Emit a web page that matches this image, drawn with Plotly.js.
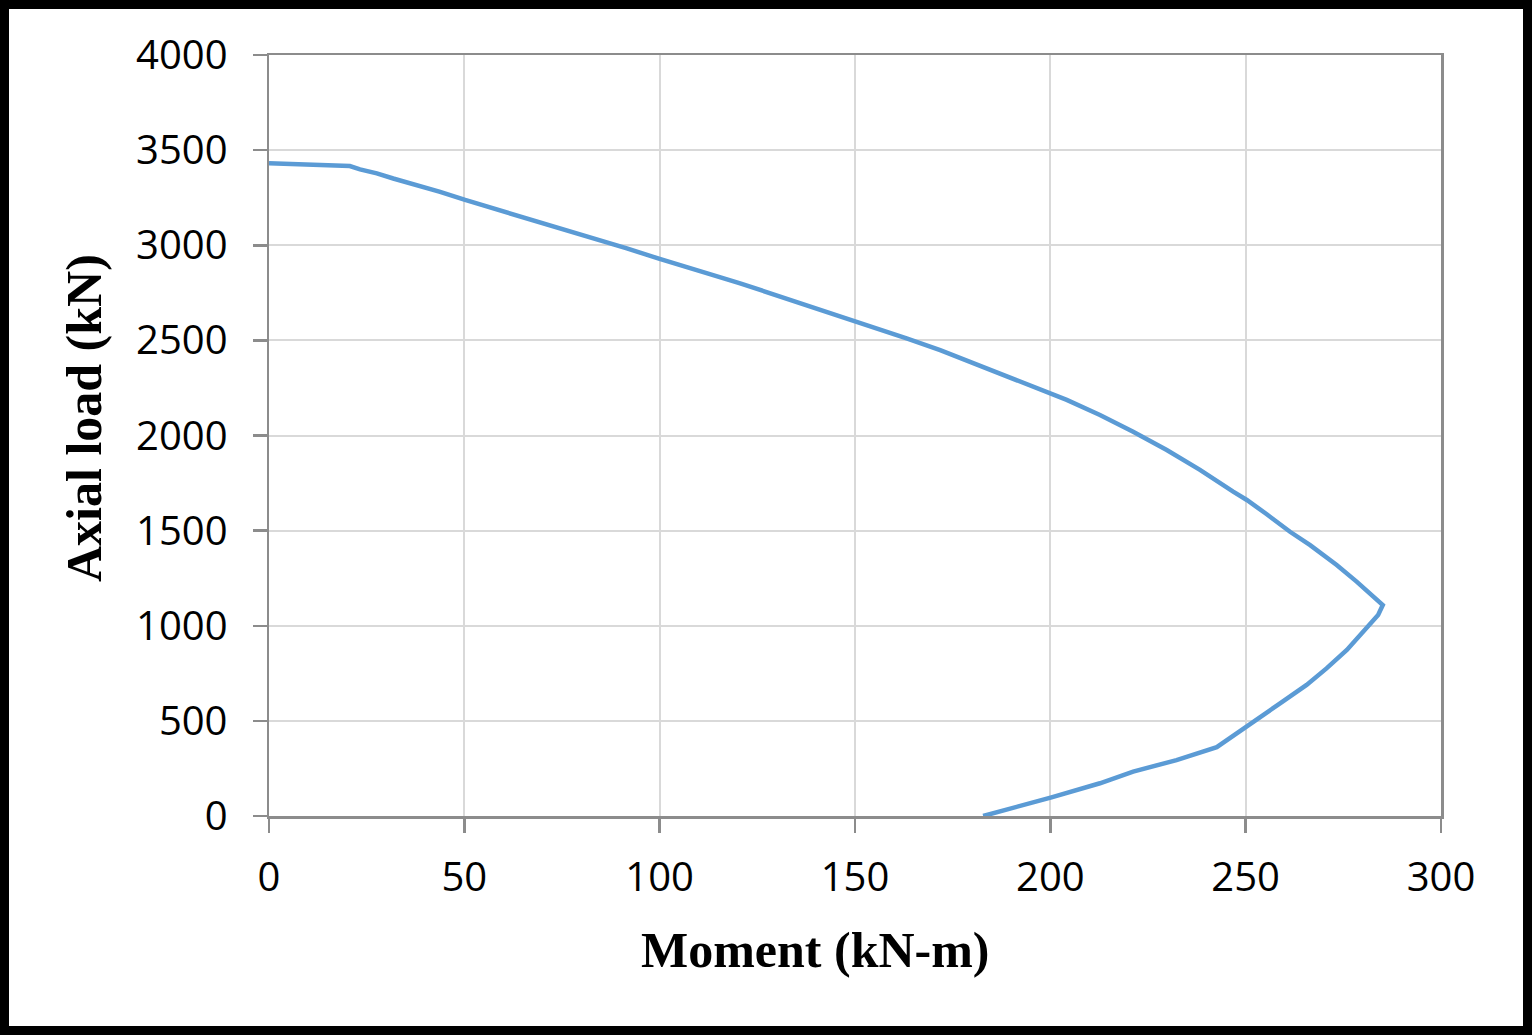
<!DOCTYPE html>
<html>
<head>
<meta charset="utf-8">
<script src="https://cdn.plot.ly/plotly-3.0.1.min.js"></script>
<style>
  html, body { margin: 0; padding: 0; background: #fff; }
  #wrap { position: relative; width: 1532px; height: 1035px; }
  #chart { width: 1532px; height: 1035px; }
  #frame { position: absolute; left: 0; top: 0; width: 1532px; height: 1035px;
           box-sizing: border-box; border: 9px solid #000; pointer-events: none; }
</style>
</head>
<body>
<div id="wrap">
  <div id="chart"></div>
  <div id="frame"></div>
</div>
<script>
// Interaction diagram: moment (kN-m) vs axial load (kN)
const moment = [0, 10, 20.7, 23.3, 27.6, 31.8, 36, 40.4, 43.8, 50.2, 57.4, 64, 70.2, 78.8, 83, 91.6, 100, 103.5, 108.6, 112, 120.6, 129.1, 135.1, 146.2, 154.7, 163.2, 171.8, 180.3, 188, 195.6, 204.2, 212.7, 221.2, 229.8, 238.3, 246.8, 250.3, 255.4, 261.35, 266.5, 273.3, 278.4, 285.1, 283.9, 281, 275.9, 270.7, 265.6, 258.8, 250.3, 242.6, 232.3, 221.2, 212.7, 200.3, 182.8];
const axialLoad = [3431, 3424, 3416, 3399, 3378, 3351, 3328, 3304, 3281, 3238, 3194, 3155, 3115, 3068, 3041, 2984, 2928, 2905, 2876, 2853, 2800, 2742, 2703, 2628, 2572, 2511, 2449, 2381, 2322, 2258, 2187, 2108, 2020, 1924, 1819, 1705, 1661, 1586, 1494, 1424, 1319, 1232, 1109, 1057, 987, 873, 776, 689, 592, 473, 362, 294, 233, 172, 98, 0];

const xTicks = [0, 50, 100, 150, 200, 250, 300];
const yTicks = [0, 500, 1000, 1500, 2000, 2500, 3000, 3500, 4000];
const xTitle = 'Moment (kN-m)';
const yTitle = 'Axial load (kN)';

const tickFont = { family: 'Open Sans, Liberation Sans, sans-serif', size: 40, color: '#000' };
const titleFont = { family: 'Liberation Serif, Times New Roman, serif', size: 50, color: '#000' };

const trace = {
  x: moment, y: axialLoad, type: 'scatter', mode: 'lines',
  line: { color: '#5b9bd5', width: 4.5 }, hoverinfo: 'x+y', showlegend: false
};

const axisCommon = {
  showline: true, linecolor: '#8c8c8c', linewidth: 2.5, mirror: true,
  showgrid: true, gridcolor: '#d9d9d9', gridwidth: 2,
  zeroline: false, ticks: 'outside', ticklen: 14, tickwidth: 2.5, tickcolor: '#8c8c8c',
  tickfont: tickFont, tickmode: 'array'
};

const layout = {
  width: 1532, height: 1035,
  margin: { l: 269, r: 91, t: 55, b: 219 },
  paper_bgcolor: '#fff', plot_bgcolor: '#fff',
  xaxis: Object.assign({}, axisCommon, {
    range: [0, 300], tickvals: xTicks, ticktext: xTicks.map(String),
    ticklabelstandoff: 10
  }),
  yaxis: Object.assign({}, axisCommon, {
    range: [0, 4000], tickvals: yTicks, ticktext: yTicks.map(String),
    ticklabelstandoff: 17
  }),
  annotations: [
    { text: '<b>' + xTitle + '</b>', xref: 'paper', yref: 'paper',
      x: (815 - 269) / 1172, y: -(950 - 816) / 761, xanchor: 'center', yanchor: 'middle',
      showarrow: false, font: titleFont },
    { text: '<b>' + yTitle + '</b>', xref: 'paper', yref: 'paper',
      x: -(269 - 84) / 1172, y: (816 - 418) / 761, xanchor: 'center', yanchor: 'middle',
      textangle: -90, showarrow: false, font: titleFont }
  ]
};

Plotly.newPlot('chart', [trace], layout, { displayModeBar: false, staticPlot: true });
</script>
</body>
</html>
